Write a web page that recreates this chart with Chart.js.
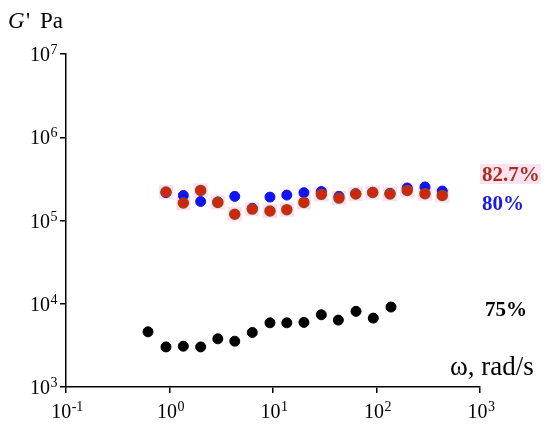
<!DOCTYPE html>
<html>
<head>
<meta charset="utf-8">
<script src="https://cdn.jsdelivr.net/npm/chart.js@4.4.1/dist/chart.umd.min.js"></script>
<style>
  body { margin: 0; background: #fff; }
</style>
</head>
<body>
<canvas id="chart" width="550" height="426"></canvas>
<script>
// frequency (rad/s) and storage modulus G' (Pa)
const omega75 = [0.62, 0.925, 1.36, 2.0, 2.93, 4.27, 6.31, 9.35, 13.6, 19.9, 29.3, 42.8, 63.4, 93.1, 138];
const g75 = [4600, 3030, 3090, 3030, 3790, 3550, 4520, 5900, 5900, 5970, 7370, 6360, 8100, 6720, 9130];

const omega = [0.925, 1.36, 2.0, 2.93, 4.27, 6.31, 9.35, 13.6, 19.9, 29.3, 43.4, 63.0, 91.9, 135, 198, 294, 432];
const g80 = [2.16e5, 2.00e5, 1.69e5, 1.67e5, 1.95e5, 1.40e5, 1.91e5, 2.02e5, 2.16e5, 2.23e5, 1.95e5, 2.10e5, 2.18e5, 2.12e5, 2.46e5, 2.53e5, 2.26e5];
const g827 = [2.20e5, 1.62e5, 2.30e5, 1.65e5, 1.19e5, 1.37e5, 1.30e5, 1.35e5, 1.65e5, 2.06e5, 1.86e5, 2.08e5, 2.17e5, 2.08e5, 2.30e5, 2.10e5, 2.00e5];

// axis decades and their exponent labels
const xTicks = [0.1, 1, 10, 100, 1000];
const xExps = ['-1', '0', '1', '2', '3'];
const yTicks = [1e3, 1e4, 1e5, 1e6, 1e7];
const yExps = ['3', '4', '5', '6', '7'];

const pts = (xs, ys) => xs.map((x, i) => ({ x: x, y: ys[i] }));

const serif = '"Liberation Serif", "Times New Roman", serif';

// draws "10" with a raised exponent
function drawPow(ctx, x, y, exp, align) {
  ctx.font = '20px ' + serif;
  const wb = ctx.measureText('10').width;
  ctx.font = '14px ' + serif;
  const we = ctx.measureText(exp).width;
  let start = align === 'right' ? x - wb - we : x - (wb + we) / 2;
  ctx.textAlign = 'left';
  ctx.textBaseline = 'alphabetic';
  ctx.font = '20px ' + serif;
  ctx.fillText('10', start, y);
  ctx.font = '14px ' + serif;
  ctx.fillText(exp, start + wb + 0.5, y - 7);
}

const textPlugin = {
  id: 'textPlugin',
  afterDraw(chart) {
    const ctx = chart.ctx;
    const xs = chart.scales.x, ys = chart.scales.y;
    ctx.save();
    ctx.fillStyle = '#000';
    yTicks.forEach((v, i) => {
      drawPow(ctx, xs.left - 9, ys.getPixelForValue(v) + 7, yExps[i], 'right');
    });
    xTicks.forEach((v, i) => {
      drawPow(ctx, xs.getPixelForValue(v) + 1, ys.bottom + 31, xExps[i], 'center');
    });

    // axis titles
    ctx.textAlign = 'left';
    ctx.font = 'italic 23px ' + serif;
    ctx.fillText('G', 8, 28);
    ctx.font = '23px ' + serif;
    ctx.fillText("'", 26, 28);
    ctx.fillText('Pa', 40, 28);
    ctx.font = '27px ' + serif;
    ctx.fillText('\u03c9, rad/s', 450, 375);

    // series labels
    ctx.font = 'bold 21px ' + serif;
    const w = ctx.measureText('82.7%').width;
    ctx.fillStyle = '#ffe1f1';
    ctx.fillRect(480, 164, w + 3, 20);
    ctx.fillStyle = '#a3321c';
    ctx.fillText('82.7%', 482, 181);
    ctx.fillStyle = '#1a1ae8';
    ctx.fillText('80%', 482, 210);
    ctx.fillStyle = '#000';
    ctx.fillText('75%', 485, 316);
    ctx.restore();
  }
};

new Chart(document.getElementById('chart'), {
  type: 'scatter',
  data: {
    datasets: [
      {
        label: '82.7%',
        data: pts(omega, g827),
        backgroundColor: '#d8220c',
        borderColor: '#8e4a16',
        borderWidth: 1.5,
        pointRadius: 5,
        order: 0
      },
      {
        label: '80%',
        data: pts(omega, g80),
        backgroundColor: '#1212f2',
        borderColor: '#1212f2',
        borderWidth: 1,
        pointRadius: 5,
        order: 1
      },
      {
        label: '75%',
        data: pts(omega75, g75),
        backgroundColor: '#000',
        borderColor: '#000',
        borderWidth: 1,
        pointRadius: 5,
        order: 2
      },
      {
        label: 'highlight',
        data: pts(omega, g827),
        pointStyle: 'rect',
        backgroundColor: '#ffdcf3',
        borderWidth: 0,
        pointRadius: 10,
        order: 3
      }
    ]
  },
  options: {
    responsive: false,
    animation: false,
    layout: { padding: { left: 0, right: 70, top: 54, bottom: 0 } },
    plugins: {
      legend: { display: false },
      tooltip: { enabled: false }
    },
    scales: {
      x: {
        type: 'logarithmic',
        min: 0.1,
        max: 1000,
        afterBuildTicks: (s) => { s.ticks = xTicks.map(v => ({ value: v })); },
        afterFit: (s) => { s.height = 39; },
        ticks: { display: false },
        grid: { drawOnChartArea: false, drawTicks: true, tickLength: 6, color: '#000', lineWidth: 1.5 },
        border: { display: true, color: '#000', width: 1.5 }
      },
      y: {
        type: 'logarithmic',
        min: 1e3,
        max: 1e7,
        afterBuildTicks: (s) => { s.ticks = yTicks.map(v => ({ value: v })); },
        afterFit: (s) => { s.width = 66; },
        ticks: { display: false },
        grid: { drawOnChartArea: false, drawTicks: true, tickLength: 6, color: '#000', lineWidth: 1.5 },
        border: { display: true, color: '#000', width: 1.5 }
      }
    }
  },
  plugins: [textPlugin]
});
</script>
</body>
</html>
